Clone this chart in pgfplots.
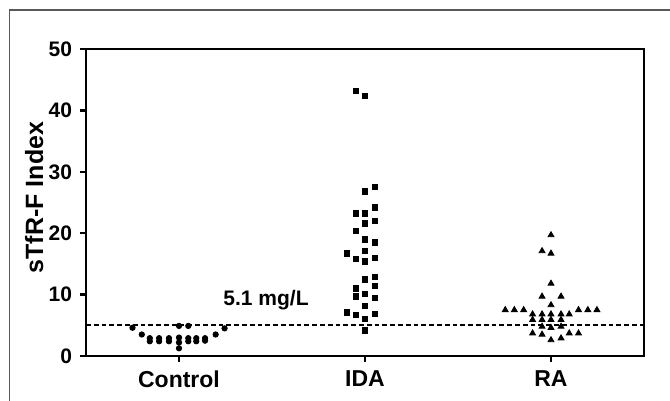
\documentclass[border=0pt]{standalone}
\usepackage{fontspec}
\setmainfont{Liberation Sans}
\usepackage{pgfplots}
\pgfplotsset{compat=1.18}

\begin{document}
\begin{tikzpicture}
\useasboundingbox (0,0) rectangle (335pt,200.5pt);
% outer frame (top and left only, the rest is cropped)
\draw[black!65, line width=0.8pt] (4.75pt,0) -- (4.75pt,195.5pt) -- (335pt,195.5pt);

\begin{axis}[
  at={(43pt,22.5pt)}, anchor=south west,
  scale only axis, width=279pt, height=153.5pt,
  xmin=-0.5, xmax=2.5, ymin=0, ymax=50,
  xtick={0,1,2}, xticklabels={Control,IDA,RA},
  ytick={0,10,20,30,40,50},
  axis line style={line width=1.3pt},
  tick style={line width=1.1pt, black},
  tick align=outside, major tick length=3pt,
  xtick pos=bottom, ytick pos=left,
  /pgf/number format/assume math mode=true,
  x tick label style={font=\bfseries\fontsize{11.5}{12}\selectfont, yshift=-1pt},
  y tick label style={font=\bfseries\fontsize{10.5}{12}\selectfont, xshift=-0.5pt},
  ylabel={sTfR-F Index},
  ylabel style={font=\bfseries\fontsize{12.5}{14}\selectfont, at={(axis description cs:-0.093,0.516)}, anchor=center},
  clip=false,
]
% Control
\addplot[only marks, mark=*, mark size=1.35pt, black] coordinates {
  (-0.25,4.6) (0,4.9) (0.05,4.9) (0.245,4.5)
  (-0.2,3.5) (0.197,3.5)
  (-0.157,2.9) (-0.157,2.4) (-0.107,2.9) (-0.107,2.4) (-0.054,2.9) (-0.054,2.4)
  (0,3.0) (0.05,2.9) (0.05,2.4) (0.093,2.9) (0.093,2.4) (0.14,2.9) (0.14,2.5)
  (0,2.2) (0,1.25)
};
% IDA
\addplot[only marks, mark=square*, mark size=1.35pt, black] coordinates {
  (0.95,43.2) (1,42.4) (1,26.8) (1.054,27.5)
  (0.95,23.2) (1,23.2) (1.054,24.2) (1,21.6) (1.054,22.0)
  (0.95,20.4) (1,19.0) (1.054,18.5) (0.902,16.7) (1,17.1)
  (0.95,15.8) (1,15.4) (1.054,16.0)
  (1,12.5) (1.054,12.9) (1.054,11.4) (0.95,11.0) (1,10.1)
  (0.95,9.7) (1.054,9.5) (1,8.2) (0.902,7.1) (0.95,6.7) (1.054,6.9)
  (1,6.0) (1,4.2)
};
% RA
\addplot[only marks, mark=triangle*, mark size=1.7pt, black] coordinates {
  (2,19.7) (1.952,17.1) (2,16.7) (2,11.8)
  (1.952,9.7) (2.054,9.7) (2,8.3)
  (1.754,7.5) (1.803,7.5) (1.853,7.5) (2.148,7.5) (2.198,7.5) (2.247,7.5)
  (1.901,6.8) (1.952,6.8) (2,6.8) (2.054,6.8) (2.098,6.8)
  (1.901,5.9) (1.952,5.9) (2,5.9) (2.054,5.9)
  (1.952,4.8) (2,4.6) (2.054,4.8)
  (1.901,3.7) (1.952,3.5) (2.098,3.7) (2.148,3.7)
  (2,2.6) (2.054,2.9)
};
% cut-off line
\addplot[black, line width=1.1pt, dash pattern=on 2.4pt off 1.5pt] coordinates {(-0.5,5.1) (2.5,5.1)};
\node[font=\bfseries\fontsize{10.5}{12}\selectfont] at (axis cs:0.468,9.1) {5.1 mg/L};
\end{axis}
\end{tikzpicture}
\end{document}
